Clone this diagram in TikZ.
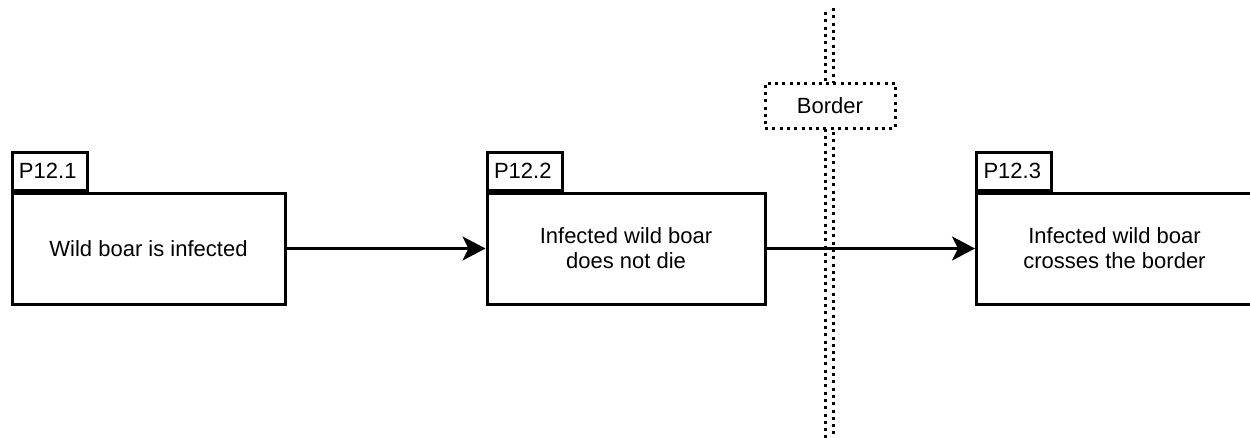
\documentclass[tikz,border=0pt]{standalone}
\usepackage{fontspec}
\setmainfont{Liberation Sans}
\usetikzlibrary{arrows.meta}
\begin{document}
\begin{tikzpicture}[x=1pt,y=-1pt,
  every node/.style={font=\fontsize{22}{25}\selectfont, inner sep=0pt},
  mainbox/.style={draw=black, line width=3pt, fill=white, minimum height=111pt, align=center},
  tabbox/.style={draw=black, line width=3pt, fill=white, minimum width=75pt, minimum height=38pt, anchor=south west, text width=61pt, align=left, inner xsep=7pt},
  borderline/.style={line width=3pt, dash pattern=on 3pt off 4.3pt},
  flow/.style={line width=3pt, -{Stealth[length=23pt, width=24pt, inset=6pt]}}
]
\useasboundingbox (0,0) rectangle (1250,437);

% the border: two dotted rails with a label box
\coordinate (railLtop) at (825,12);
\coordinate (railLbot) at (825,440);
\coordinate (railRtop) at (833,8);
\coordinate (railRbot) at (833,440);
\draw[borderline] (railLtop) -- (railLbot);
\draw[borderline] (railRtop) -- (railRbot);
\node[draw=black, line width=3pt, dash pattern=on 3pt off 4.3pt, fill=white,
      minimum width=130pt, minimum height=45pt] (border) at (830,105.5) {Border};

% process steps
\node[mainbox, minimum width=273pt] (p1) at (148.5,248.5) {Wild boar is infected};
\node[tabbox] (t1) at (p1.north west) {P12.1};

\node[mainbox, minimum width=278pt] (p2) at (626,248.5) {Infected wild boar\\does not die};
\node[tabbox] (t2) at (p2.north west) {P12.2};

\begin{scope}
  \clip (0,0) rectangle (1250,437);
  \node[mainbox, minimum width=276pt] (p3) at (1114.5,248.5) {Infected wild boar\\crosses the border};
\end{scope}
\node[tabbox] (t3) at (p3.north west) {P12.3};

% flow between steps
\draw[flow] (p1.east) -- (p2.west);
\draw[flow] (p2.east) -- (p3.west);
\end{tikzpicture}
\end{document}
